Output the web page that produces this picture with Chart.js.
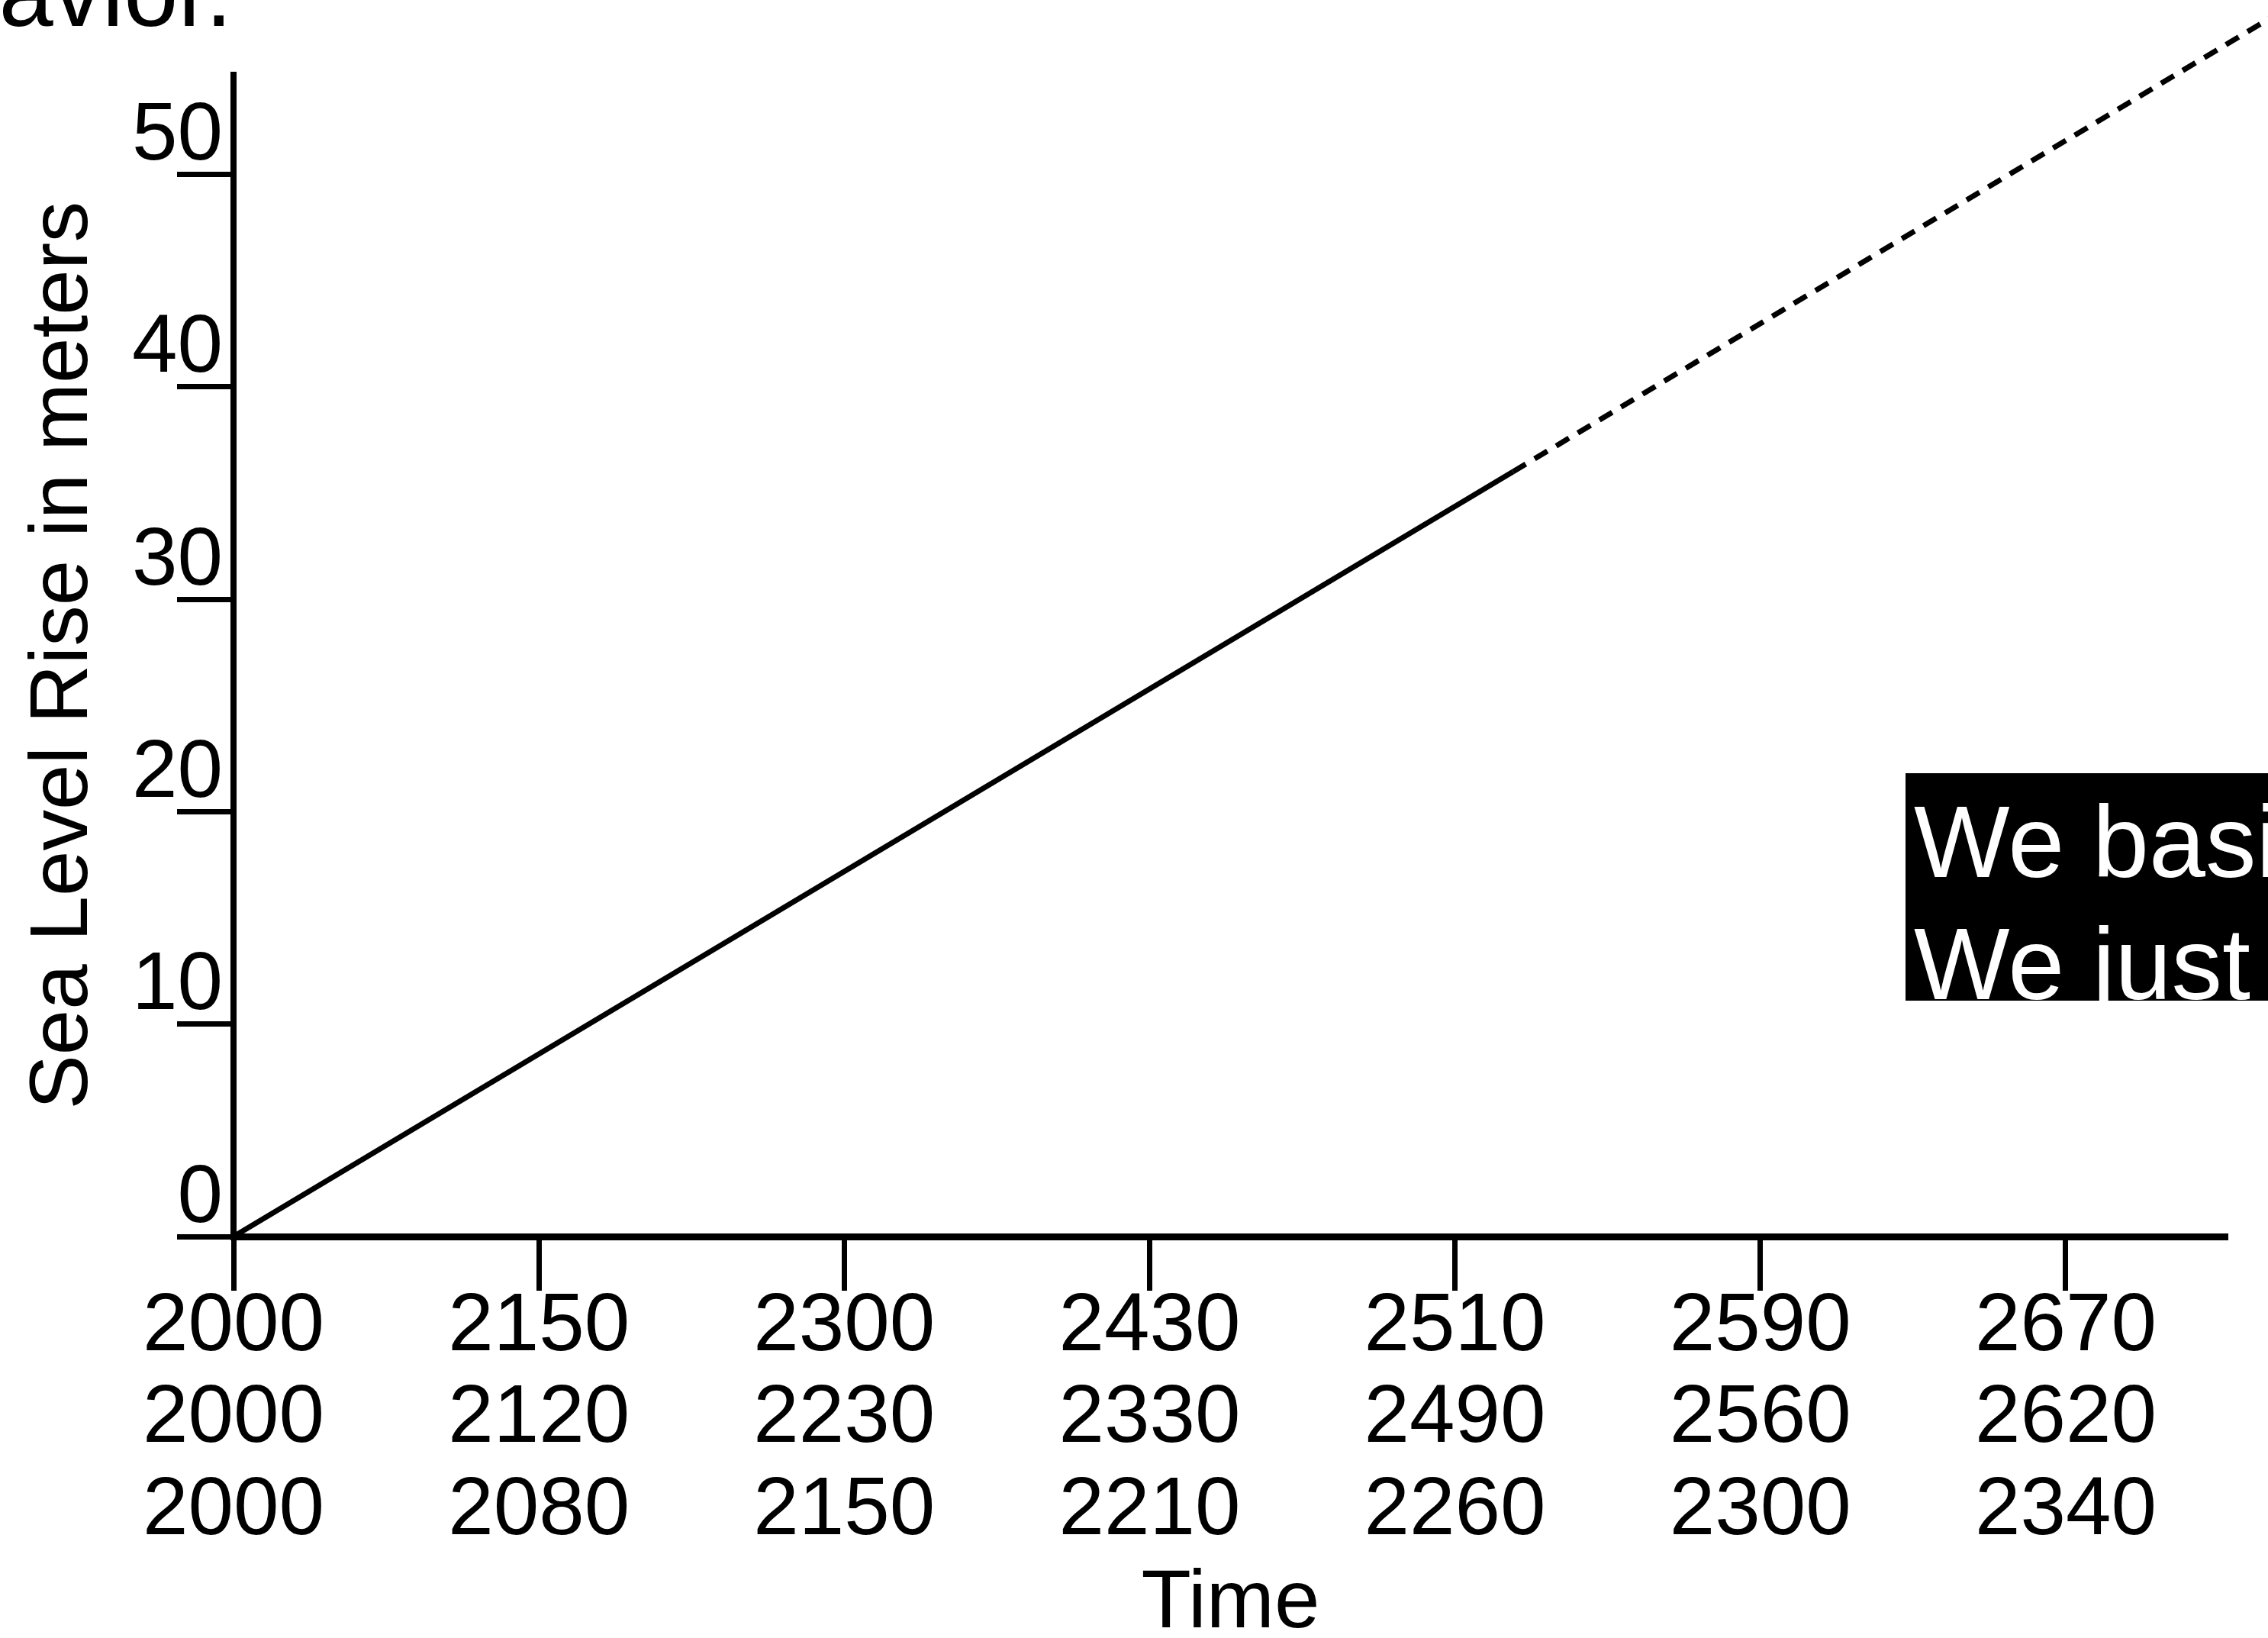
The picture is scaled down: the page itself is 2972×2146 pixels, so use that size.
<!DOCTYPE html>
<html>
<head>
<meta charset="utf-8">
<title>Sea Level Rise in meters</title>
<script src="https://cdn.jsdelivr.net/npm/chart.js@4.4.1/dist/chart.umd.min.js"></script>
<style>
  html, body { margin: 0; padding: 0; background: #fff; }
  body { width: 2972px; height: 2146px; overflow: hidden; position: relative; }
  #chart { position: absolute; left: -215px; top: -78px; }
  #note {
    position: absolute; left: 2497px; top: 1013px; width: 700px; height: 298px;
    background: #000; color: #fff; box-sizing: border-box;
    padding: 10px 0 0 11px; white-space: nowrap; overflow: hidden;
    font-family: 'Liberation Sans', Arial, Helvetica, sans-serif;
    font-size: 133px; line-height: 160px;
  }
</style>
</head>
<body>
<canvas id="chart" width="3300" height="2224"></canvas>
<div id="note">We basically<br>We just</div>
<script>
// ---- data ----
const chartTitle = 'behavior.';
const yAxisTitle = 'Sea Level Rise in meters';
const xAxisTitle = 'Time';
// three rows of year labels under each of the 7 time ticks
const yearsRow1 = ['2000', '2150', '2300', '2430', '2510', '2590', '2670'];
const yearsRow2 = ['2000', '2120', '2230', '2330', '2490', '2560', '2620'];
const yearsRow3 = ['2000', '2080', '2150', '2210', '2260', '2300', '2340'];
// positions on the time axis (tick index units) and sea level rise (m)
const observedTime = [0, 4.19];
const observedRise = [0, 36];
const projectedTime = [4.19, 7];
const projectedRise = [36, 60.2];
const yTicks = [0, 10, 20, 30, 40, 50];

const FONT = "'Liberation Sans', Arial, Helvetica, sans-serif";
Chart.defaults.font.family = FONT;
Chart.defaults.color = '#000';

const toPoints = (xs, ys) => xs.map((x, i) => ({ x: x, y: ys[i] }));

new Chart(document.getElementById('chart'), {
  type: 'line',
  data: {
    datasets: [
      {
        label: 'observed',
        data: toPoints(observedTime, observedRise),
        borderColor: '#000',
        borderWidth: 7,
        pointRadius: 0,
        tension: 0,
        clip: false
      },
      {
        label: 'projected',
        data: toPoints(projectedTime, projectedRise),
        borderColor: '#000',
        borderWidth: 7,
        borderDash: [19.5, 13.5],
        pointRadius: 0,
        tension: 0,
        clip: false
      }
    ]
  },
  options: {
    responsive: false,
    animation: false,
    events: [],
    layout: { padding: { left: 0, top: 0, right: 166, bottom: 0 } },
    plugins: {
      legend: { display: false },
      tooltip: { enabled: false },
      title: {
        display: true,
        text: chartTitle,
        align: 'start',
        color: '#000',
        font: { size: 128, weight: 'normal', lineHeight: 1.2 },
        padding: { top: 0, bottom: 22 }
      }
    },
    scales: {
      x: {
        type: 'linear',
        min: 0,
        max: 6.53,
        afterFit: (s) => { s.height = 526; },
        border: { display: true, color: '#000', width: 9 },
        grid: { drawOnChartArea: false, drawTicks: true, tickLength: 71, tickWidth: 7, tickColor: '#000' },
        ticks: {
          stepSize: 1,
          includeBounds: false,
          autoSkip: false,
          maxRotation: 0,
          padding: -12,
          font: { size: 107, lineHeight: 1.126 },
          color: '#000',
          callback: (v) => Number.isInteger(v) && v < yearsRow1.length ? [yearsRow1[v], yearsRow2[v], yearsRow3[v]] : null
        },
        title: {
          display: true,
          text: xAxisTitle,
          color: '#000',
          font: { size: 107, lineHeight: 1 },
          padding: { top: 0, bottom: -10 }
        }
      },
      y: {
        type: 'linear',
        min: 0,
        max: 54.7,
        afterFit: (s) => { s.width = 521; },
        afterBuildTicks: (s) => { s.ticks = yTicks.map(v => ({ value: v })); },
        border: { display: true, color: '#000', width: 8 },
        grid: { drawOnChartArea: false, drawTicks: true, tickLength: 74, tickWidth: 7, tickColor: '#000' },
        ticks: {
          stepSize: 10,
          includeBounds: false,
          padding: -60,
          labelOffset: -49,
          font: { size: 107, lineHeight: 1.2 },
          color: '#000'
        },
        title: {
          display: true,
          text: yAxisTitle,
          color: '#000',
          font: { size: 107, lineHeight: 1.2 },
          padding: { top: 235, bottom: 0 }
        }
      }
    }
  }
});
</script>
</body>
</html>
